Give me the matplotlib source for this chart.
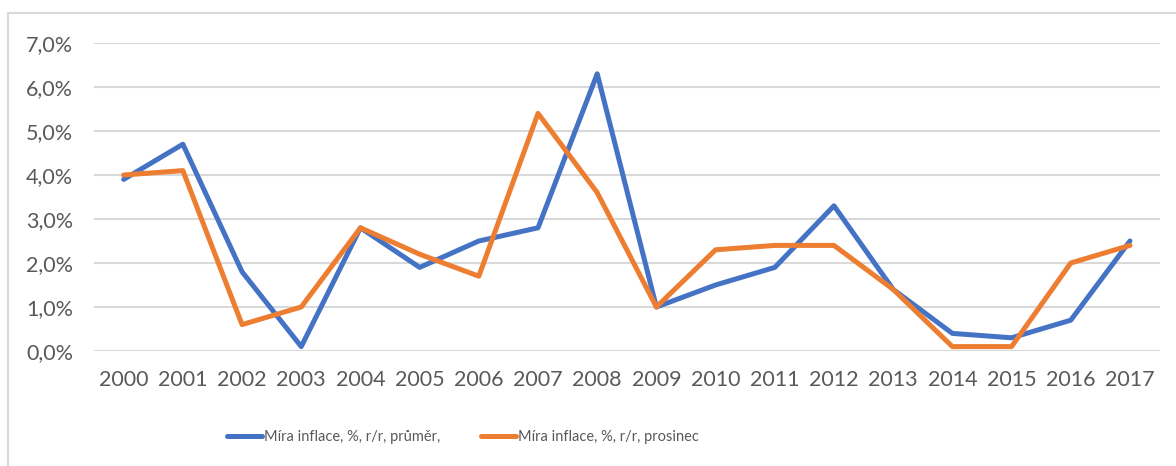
import matplotlib.pyplot as plt
from matplotlib.patches import Rectangle
from matplotlib.ticker import FuncFormatter
from matplotlib import font_manager

plt.rcParams['font.family'] = ['Lato', 'DejaVu Sans']

# Data
years = ['2000', '2001', '2002', '2003', '2004', '2005', '2006', '2007', '2008',
         '2009', '2010', '2011', '2012', '2013', '2014', '2015', '2016', '2017']
prumer = [3.9, 4.7, 1.8, 0.1, 2.8, 1.9, 2.5, 2.8, 6.3,
          1.0, 1.5, 1.9, 3.3, 1.4, 0.4, 0.3, 0.7, 2.5]
prosinec = [4.0, 4.1, 0.6, 1.0, 2.8, 2.2, 1.7, 5.4, 3.6,
            1.0, 2.3, 2.4, 2.4, 1.4, 0.1, 0.1, 2.0, 2.4]
labels = ['Míra inflace, %, r/r, průměr,', 'Míra inflace, %, r/r, prosinec']

text_color = '#595959'
grid_color = '#D9D9D9'

# narrow font for the legend if there is one
names = {f.name for f in font_manager.fontManager.ttflist}
if 'Liberation Sans Narrow' in names:
    leg_font = dict(family='Liberation Sans Narrow', size=14)
else:
    leg_font = dict(family='Lato', size=10.5)

fig = plt.figure(figsize=(11.76, 4.66), dpi=100)
ax = fig.add_axes([0.080, 0.2468, 0.906, 0.6609])

# chart frame
fig.patches.append(Rectangle((8 / 1176, -0.1), 1.1, 1.1 - 13 / 466,
                             transform=fig.transFigure, fill=False,
                             edgecolor=grid_color, linewidth=1.5))

x = list(range(len(years)))
ax.plot(x, [v / 100 for v in prumer], color='#4472C4', lw=3.6,
        solid_capstyle='round', solid_joinstyle='round', label=labels[0], zorder=3)
ax.plot(x, [v / 100 for v in prosinec], color='#ED7D31', lw=3.6,
        solid_capstyle='round', solid_joinstyle='round', label=labels[1], zorder=4)

ax.set_xlim(-0.5, len(years) - 0.5)
ax.set_ylim(0, 0.07)
ax.set_yticks([i / 100 for i in range(8)])
ax.yaxis.set_major_formatter(FuncFormatter(lambda v, p: f'{v * 100:.1f}%'.replace('.', ',')))
ax.set_xticks(x)
ax.set_xticklabels(years)
ax.grid(axis='y', color=grid_color, lw=1.5)
ax.set_axisbelow(True)
for s in ax.spines.values():
    s.set_visible(False)
ax.tick_params(axis='both', length=0, labelsize=15.5, colors=text_color)
ax.tick_params(axis='y', pad=15)
ax.tick_params(axis='x', pad=14)

fig.legend(loc='center', bbox_to_anchor=(463 / 1176, 1 - 437 / 466), ncol=2,
           frameon=False, prop=leg_font, handlelength=2.4, handletextpad=0.15,
           columnspacing=2.8, labelcolor=text_color)

fig.savefig('out.png', dpi=100)
